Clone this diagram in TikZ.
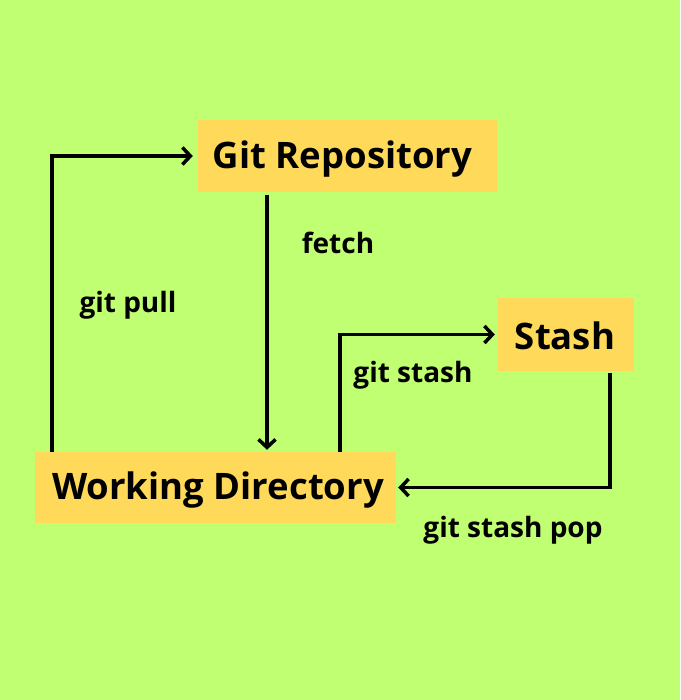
\documentclass[tikz,border=0pt]{standalone}
\usepackage{fontspec}
\setmainfont{Open Sans}
\usetikzlibrary{arrows.meta}
\definecolor{bg}{HTML}{C1FF72}
\definecolor{boxc}{HTML}{FFD95A}
\tikzset{
  boxnode/.style={fill=boxc, inner sep=0pt, font=\fontsize{36.5}{42}\selectfont\bfseries},
  lbl/.style={font=\fontsize{28}{32}\selectfont\bfseries, inner sep=0pt},
  arr/.style={line width=3.5pt, -{Straight Barb[length=8pt,width=17pt,line width=3.5pt]}}
}
\begin{document}
\begin{tikzpicture}[x=1pt,y=-1pt]
\fill[bg] (0,0) rectangle (680,700);
\useasboundingbox (0,0) rectangle (680,700);
\node[boxnode, minimum width=299pt, minimum height=72pt] (gr) at (347.5,156) {};
\node[boxnode, minimum width=361pt, minimum height=71pt] (wd) at (215.5,487.5) {};
\node[boxnode, minimum width=136pt, minimum height=73pt] (st) at (566,334.5) {};
\node[boxnode, fill=none] (grt) at (342.5,159) {Git Repository};
\node[boxnode, fill=none] (wdt) at (218,490) {Working Directory};
\node[boxnode, fill=none] (stt) at (565,336) {Stash};
\coordinate (px) at (52,0);
\coordinate (fx) at (267,0);
\coordinate (sx) at (340,0);
\coordinate (ox) at (610,0);
\draw[arr, shorten >=5pt] (wd.north -| px) |- (gr.west);
\draw[arr, shorten <=3pt, shorten >=2pt] (gr.south -| fx) -- (wd.north -| fx);
\draw[arr, shorten >=3pt] (wd.north -| sx) |- (st.west);
\draw[arr, shorten <=2pt, shorten >=2pt] (st.south -| ox) |- (wd.east);
\node[lbl] (lfetch) at (338,243) {fetch};
\node[lbl] (lpull) at (128,305) {git pull};
\node[lbl] (lstash) at (413,375) {git stash};
\node[lbl] (lpop) at (513,530) {git stash pop};
\end{tikzpicture}
\end{document}
